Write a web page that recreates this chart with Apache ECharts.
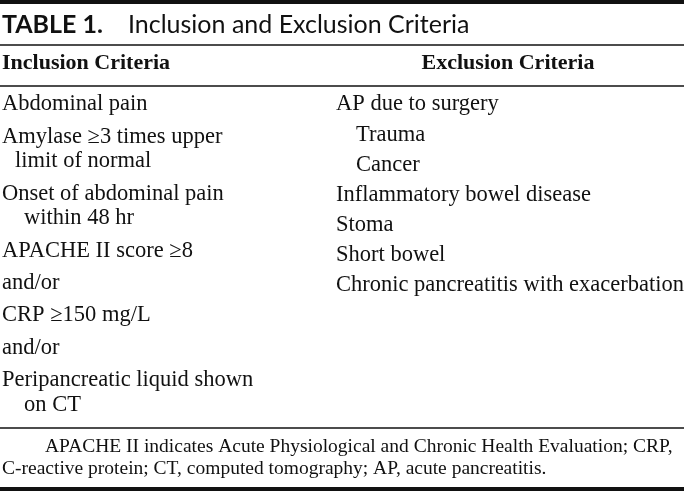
<!DOCTYPE html>
<html><head><meta charset="utf-8">
<script src="https://cdn.jsdelivr.net/npm/echarts@6/dist/echarts.min.js"></script>
<style>html,body{margin:0;padding:0;background:#fff}#c{width:684px;height:491px}</style>
</head><body><div id="c"></div>
<script>
const titleLabel = 'TABLE 1.';
const titleText = 'Inclusion and Exclusion Criteria';
const headers = ['Inclusion Criteria', 'Exclusion Criteria'];
// each inclusion item: first line, then continuation lines
const inclusion = [
  ['Abdominal pain'],
  ['Amylase \u22653 times upper', 'limit of normal'],
  ['Onset of abdominal pain', 'within 48 hr'],
  ['APACHE II score \u22658'],
  ['and/or'],
  ['CRP \u2265150 mg/L'],
  ['and/or'],
  ['Peripancreatic liquid shown', 'on CT']
];
const exclusionText = ['AP due to surgery', 'Trauma', 'Cancer', 'Inflammatory bowel disease', 'Stoma', 'Short bowel', 'Chronic pancreatitis with exacerbation'];
const exclusionLevel = [0, 1, 1, 0, 0, 0, 0];
const footnoteLines = [
  'APACHE II indicates Acute Physiological and Chronic Health Evaluation; CRP,',
  'C-reactive protein; CT, computed tomography; AP, acute pancreatitis.'
];

const W = 684, H = 491;
const serif = '"Liberation Serif", "Times New Roman", serif';
const sans = 'Lato, "Open Sans", sans-serif';
const ink = '#111';
const bodyFs = 22.5, headFs = 22, footFs = 19.5, titleFs = 25;

const els = [];
function txt(x, baseline, s, fs, opts) {
  opts = opts || {};
  return {
    type: 'text', x: x, y: baseline - 0.33 * fs, silent: true,
    style: {
      text: s, fill: ink,
      font: (opts.bold ? 'bold ' : '') + fs + 'px ' + (opts.family || serif),
      align: opts.align || 'left', verticalAlign: 'middle'
    }
  };
}
function hline(y, w) {
  return { type: 'line', silent: true, shape: { x1: 0, y1: y, x2: W, y2: y }, style: { stroke: ink, lineWidth: w } };
}
function bar(y, h) {
  return { type: 'rect', silent: true, shape: { x: 0, y: y, width: W, height: h }, style: { fill: ink } };
}

els.push(bar(0, 4));
els.push(txt(2, 33, titleLabel, titleFs, { bold: true, family: sans }));
els.push(txt(128, 33, titleText, titleFs, { family: sans }));
els.push(hline(45, 1.5));
els.push(txt(2, 71, headers[0], headFs, { bold: true }));
els.push(txt(508, 71, headers[1], headFs, { bold: true, align: 'center' }));
els.push(hline(86, 1.5));

const leftX = 2, indents = [13, 22, 22], firstBase = 112, itemGap = 32.4, lineGap = 24.5;
let y = firstBase, cont = 0;
inclusion.forEach(function (item, i) {
  if (i > 0) y += itemGap;
  item.forEach(function (line, j) {
    if (j > 0) y += lineGap;
    els.push(txt(leftX + (j > 0 ? indents[cont++] : 0), y, line, bodyFs));
  });
});

const rightX = 336, rightIndent = 20, rightStep = 30.1;
exclusionText.forEach(function (s, i) {
  els.push(txt(rightX + exclusionLevel[i] * rightIndent, firstBase + i * rightStep, s, bodyFs));
});

els.push(hline(428, 1.5));
els.push(txt(45, 453, footnoteLines[0], footFs));
els.push(txt(2, 475, footnoteLines[1], footFs));
els.push(bar(487, 4));

const chart = echarts.init(document.getElementById('c'), null, { renderer: 'canvas' });
chart.setOption({ backgroundColor: '#fff', animation: false, graphic: { elements: els } });
</script></body></html>
